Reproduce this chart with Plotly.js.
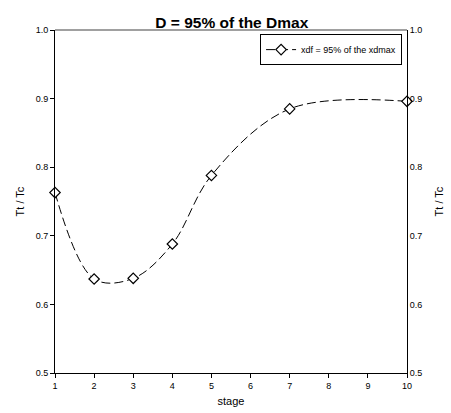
<!DOCTYPE html>
<html>
<head>
<meta charset="utf-8">
<script src="https://cdn.plot.ly/plotly-3.0.1.min.js"></script>
<style>html,body{margin:0;padding:0;background:#fff;}#chart{width:451px;height:413px;}</style>
</head>
<body>
<div id="chart"></div>
<script>
const stages = [1, 2, 3, 4, 5, 7, 10];
const ratio = [0.763, 0.637, 0.638, 0.688, 0.788, 0.885, 0.896];
const seriesName = "xdf = 95% of the xdmax";
const xTicks = [1, 2, 3, 4, 5, 6, 7, 8, 9, 10];
const yTicks = [0.5, 0.6, 0.7, 0.8, 0.9, 1.0];
const yTickText = ["0.5", "0.6", "0.7", "0.8", "0.9", "1.0"];

const font = "Liberation Sans, Arial, sans-serif";

const traces = [
  {
    x: stages, y: ratio, name: seriesName, type: "scatter", mode: "lines+markers",
    line: {color: "#000", width: 1, dash: "9px,4px", shape: "spline", smoothing: 1},
    marker: {symbol: "diamond", size: 8, color: "#fff", line: {width: 1.2, color: "#000"}},
    cliponaxis: false
  },
  {
    x: stages, y: ratio, yaxis: "y2", showlegend: false, hoverinfo: "skip",
    mode: "markers", marker: {opacity: 0}
  }
];

const layout = {
  width: 451, height: 413,
  margin: {l: 55, r: 44, t: 30, b: 40},
  paper_bgcolor: "#fff", plot_bgcolor: "#fff",
  font: {family: font, color: "#000", size: 9},
  showlegend: true,
  title: {text: "<b>D = 95% of the Dmax</b>", font: {family: font, size: 15.5, color: "#000"},
          x: 0.514, xanchor: "center", y: 0.946, yanchor: "middle"},
  xaxis: {
    range: [1, 10], tickvals: xTicks, ticks: "outside", ticklen: 4, tickcolor: "#000",
    showline: true, linecolor: "#000", linewidth: 1, showgrid: false, zeroline: false,
    tickfont: {size: 9, color: "#000"}, title: {text: "stage", font: {size: 11, color: "#000"}, standoff: 7}
  },
  yaxis: {
    range: [0.5, 1.0], tickvals: yTicks, ticktext: yTickText, ticks: "outside", ticklen: 4, tickcolor: "#000",
    showline: true, linecolor: "#000", linewidth: 1, showgrid: false, zeroline: false,
    tickfont: {size: 9, color: "#000"}, title: {text: "Tt / Tc", font: {size: 11, color: "#000"}, standoff: 8}
  },
  yaxis2: {
    overlaying: "y", side: "right", range: [0.5, 1.0], tickvals: yTicks, ticktext: yTickText,
    ticks: "", showline: true, linecolor: "#000", linewidth: 1, showgrid: false, zeroline: false,
    tickfont: {size: 9, color: "#000"}, title: {text: "Tt / Tc", font: {size: 11, color: "#000"}, standoff: 13}
  },
  shapes: [
    {type: "line", xref: "paper", yref: "paper", x0: 0, x1: 1, y0: 1, y1: 1,
     line: {color: "#808080", width: 1.5}}
  ],
  legend: {
    x: 0.986, xanchor: "right", y: 0.988, yanchor: "top",
    bgcolor: "#fff", bordercolor: "#000", borderwidth: 1,
    font: {family: font, size: 9, color: "#000"}
  }
};

Plotly.newPlot("chart", traces, layout, {staticPlot: true, displayModeBar: false});
</script>
</body>
</html>
